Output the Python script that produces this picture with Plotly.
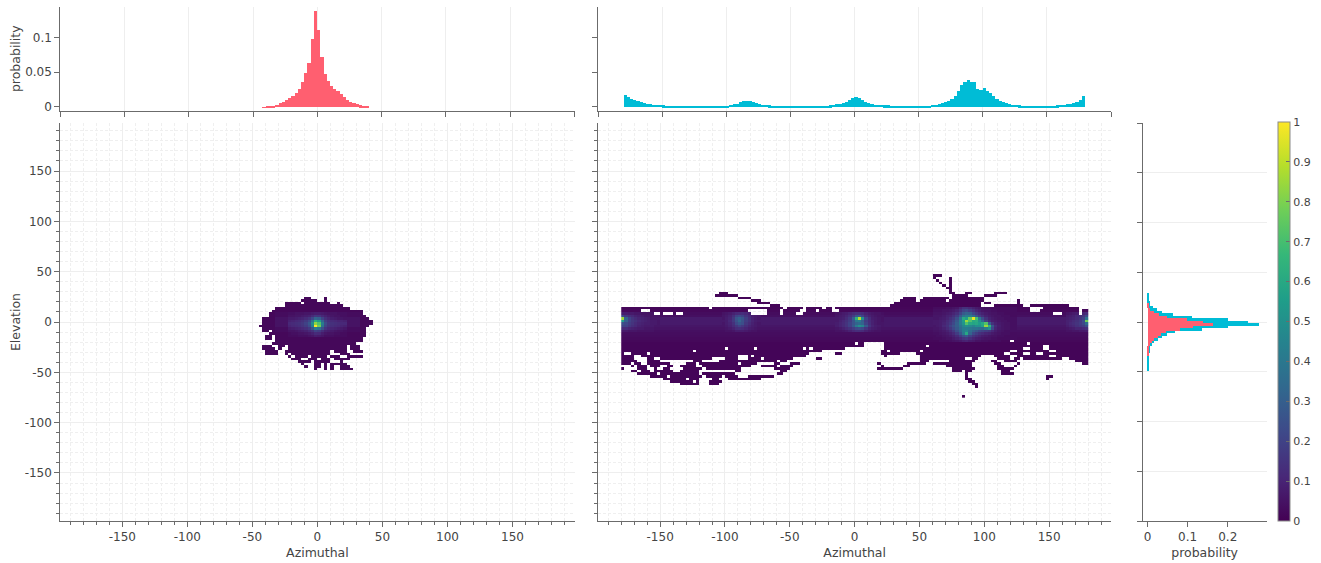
import plotly.graph_objects as go

W, H = 1321, 563
CELL = 2.5

LEFT_ROWS = {
 23.75: [[-10,-5],[5,7.5]],
 21.25: [[-12.5,0],[5,7.5]],
 18.75: [[-25,-12.5],[-10,10],[15,17.5]],
 16.25: [[-25,20]],
 13.75: [[-32.5,25]],
 11.25: [[-35,35]],
 8.75: [[-37.5,35]],
 6.25: [[-37.5,37.5]],
 3.75: [[-42.5,40]],
 1.25: [[-42.5,42.5]],
 -1.25: [[-42.5,42.5]],
 -3.75: [[-45,40]],
 -6.25: [[-42.5,37.5]],
 -8.75: [[-42.5,-37.5],[-35,37.5]],
 -11.25: [[-37.5,37.5]],
 -13.75: [[-40,-35],[-32.5,37.5]],
 -16.25: [[-40,-35],[-32.5,35]],
 -18.75: [[-32.5,35]],
 -21.25: [[-35,30]],
 -23.75: [[-42.5,-35],[-30,-25],[-22.5,22.5],[25,32.5]],
 -26.25: [[-42.5,-32.5],[-30,-27.5],[-22.5,22.5],[25,32.5]],
 -28.75: [[-40,-30],[-25,10],[12.5,22.5],[27.5,35]],
 -31.25: [[-40,-30],[-25,-22.5],[-20,10],[17.5,25]],
 -33.75: [[-22.5,-20],[-17.5,-7.5],[-5,7.5],[10,17.5],[22.5,35]],
 -36.25: [[-20,-12.5],[-7.5,0],[2.5,10],[12.5,25]],
 -38.75: [[-15,-10],[-10,-5],[-2.5,10],[17.5,20]],
 -41.25: [[-12.5,-10],[-2.5,2.5],[5,7.5],[10,22.5]],
 -43.75: [[-10,-7.5],[-2.5,2.5],[5,7.5],[10,12.5],[17.5,25]],
 -46.25: [[-2.5,0],[5,7.5],[10,12.5],[17.5,27.5]],
}
LEFT_BLOCKS = [[-32.5,32.5,-10,10,.03],[-32.5,32.5,-5,5,.05]]
LEFT_PATCHES = [
 [-21.25, 8.75, [
  [.04,.04,.05,.05,.05,.06,.06,.07,.08,.08,.07,.06,.05,.05,.05,.04,.04,.04],
  [.05,.05,.06,.06,.07,.08,.09,.12,.16,.15,.11,.09,.07,.06,.05,.05,.04,.04],
  [.07,.07,.08,.09,.10,.12,.15,.22,.33,.30,.20,.13,.10,.08,.07,.06,.06,.05],
  [.09,.10,.11,.12,.14,.17,.22,.38,.62,.55,.33,.19,.14,.12,.11,.10,.10,.09],
  [.11,.12,.13,.14,.16,.20,.27,.48,.82,.72,.42,.23,.16,.14,.13,.12,.11,.11],
  [.10,.11,.12,.13,.15,.18,.24,.44,1.0,.78,.38,.21,.15,.13,.12,.11,.10,.09],
  [.07,.08,.09,.10,.11,.13,.17,.27,.42,.38,.25,.15,.11,.10,.09,.08,.07,.06],
  [.05,.05,.06,.07,.08,.09,.11,.14,.20,.18,.13,.09,.08,.07,.06,.05,.05,.04],
  [.03,.04,.04,.05,.05,.06,.07,.09,.12,.11,.08,.06,.05,.05,.04,.04,.03,.03],
  [.03,.03,.03,.04,.04,.04,.05,.06,.08,.07,.06,.04,.04,.04,.03,.03,.03,.03],
 ]],
]

RIGHT_ROWS = {
 46.25: [[60,67.5]],
 43.75: [[60,62.5],[72.5,75]],
 41.25: [[62.5,65],[72.5,75]],
 38.75: [[65,67.5],[72.5,75]],
 36.25: [[67.5,70],[72.5,75]],
 33.75: [[70,75]],
 31.25: [[72.5,75]],
 28.75: [[-105,-97.5],[72.5,77.5],[85,90],[107.5,117.5]],
 26.25: [[-107.5,-90],[75,87.5],[100,110]],
 23.75: [[-90,-80],[37.5,47.5],[52.5,72.5],[75,100]],
 21.25: [[-80,-72.5],[35,47.5],[50,70],[72.5,100],[125,127.5]],
 18.75: [[-75,-65],[30,97.5],[100,105],[125,127.5]],
 16.25: [[-65,-57.5],[27.5,97.5],[107.5,130],[135,165]],
 13.75: [[-180,-112.5],[-110,-55],[-52.5,-40],[-37.5,-25],[-22.5,-17.5],[-15,135],[142.5,143],[145,172.5]],
 11.25: [[-180,-165],[-157.5,-82.5],[-67.5,-57.5],[-55,-42.5],[-37.5,-30],[-27.5,-17.5],[-12.5,135],[142.5,172.5],[175,180]],
 8.75: [[-180,-155],[-150,-147.5],[-140,-137.5],[-132.5,-80],[-67.5,-57.5],[-55,-45],[-40,152.5],[160,172.5],[175,180]],
 6.25: [[-180,180]], 3.75: [[-180,180]], 1.25: [[-180,180]], -1.25: [[-180,180]],
 -3.75: [[-180,180]], -6.25: [[-180,180]], -8.75: [[-180,180]], -11.25: [[-180,180]],
 -13.75: [[-180,180]], -16.25: [[-180,180]], -18.75: [[-180,120],[122.5,180]],
 -21.25: [[-180,0],[2.5,7.5],[22.5,132.5],[135,180]],
 -23.75: [[-180,7.5],[22.5,55],[57.5,145],[150,180]],
 -26.25: [[-180,-100],[-97.5,-77.5],[-75,-40],[-37.5,-35],[-32.5,-7.5],[22.5,130],[135,145],[150,180]],
 -28.75: [[-180,-125],[-122.5,-25],[20,25],[27.5,50],[52.5,120],[125,150],[155,180]],
 -31.25: [[-180,-177.5],[-172.5,-160],[-157.5,-35],[-15,-10],[20,35],[47.5,115],[120,130],[135,140],[145,180]],
 -33.75: [[-180,-170],[-165,-90],[-82.5,-80],[-77.5,-37.5],[22.5,25],[50,97.5],[107.5,120],[125,150],[155,180]],
 -36.25: [[-180,-170],[-160,-155],[-150,-110],[-100,-90],[-82.5,-72.5],[-70,-47.5],[-30,-25],[50,85],[90,95],[110,120],[122.5,127.5],[130,160],[165,180]],
 -38.75: [[-180,-167.5],[-160,-150],[-125,-117.5],[-105,-60],[-57.5,-52.5],[50,57.5],[72.5,92.5],[105,110],[115,125],[170,180]],
 -41.25: [[-180,-172.5],[-170,-165],[-160,-142.5],[-130,-122.5],[-120,-90],[-87.5,-75],[-62.5,-57.5],[-50,-42.5],[17.5,20],[40,55],[60,90],[107.5,112.5],[125,127.5],[175,180]],
 -43.75: [[-172.5,-170],[-167.5,-160],[-157.5,-150],[-145,-140],[-135,-122.5],[-117.5,-80],[-72.5,-60],[-57.5,-47.5],[20,22.5],[37.5,42.5],[70,90],[110,115],[122.5,125]],
 -46.25: [[-180,-177.5],[-167.5,-160],[-155,-152.5],[-147.5,-142.5],[-132.5,-117.5],[-115,-87.5],[-62.5,-50],[17.5,37.5],[75,92.5],[110,122.5]],
 -48.75: [[-172.5,-167.5],[-165,-157.5],[-155,-140],[-135,-120],[-92.5,-87.5],[-57.5,-52.5],[75,82.5],[85,90],[112.5,120]],
 -51.25: [[-167.5,-152.5],[-150,-120],[-117.5,-92.5],[-60,-55],[85,87.5],[112.5,122.5]],
 -53.75: [[-157.5,-145],[-142.5,-117.5],[-115,-102.5],[-100,-90],[-82.5,-62.5],[85,87.5],[147.5,152.5]],
 -56.25: [[-147.5,-130],[-127.5,-120],[-110,-105],[-97.5,-72.5],[85,90],[147.5,150]],
 -58.75: [[-142.5,-125],[-122.5,-120],[-112.5,-102.5],[87.5,92.5]],
 -61.25: [[-135,-120],[-112.5,-105],[90,95]],
 -63.75: [[92.5,95]],
 -73.75: [[82.5,85]],
}
RIGHT_BASE = {13.75:.015,11.25:.02,8.75:.03,6.25:.04,3.75:.05,1.25:.06,-1.25:.06,-3.75:.06,
              -6.25:.05,-8.75:.04,-11.25:.035,-13.75:.03,-16.25:.025,-18.75:.02}
RIGHT_BLOCKS = [[-150,-102,-2.5,5,.07],[-75,-15,-2.5,5,.07],[23,60,-5,5,.065],[125,162.5,-2.5,5,.07]]
RIGHT_PATCHES = [
 [-178.75, 8.75, [
  [.08,.08,.07,.07,.06,.06,.05,.05,.05,.05,.04,.04],
  [.22,.16,.13,.11,.09,.08,.07,.06,.06,.05,.05,.05],
  [.85,.32,.2,.15,.12,.1,.09,.08,.07,.06,.06,.06],
  [.55,.3,.2,.16,.14,.11,.1,.09,.08,.07,.07,.06],
  [.25,.22,.18,.15,.12,.1,.09,.08,.08,.07,.07,.06],
  [.2,.2,.16,.13,.11,.09,.08,.07,.07,.07,.06,.06],
  [.12,.12,.1,.09,.08,.07,.07,.06,.06,.06,.05,.05],
  [.07,.07,.06,.06,.06,.05,.05,.05,.05,.05,.04,.04],
 ]],
 [-101.25, 8.75, [
  [.05,.06,.07,.09,.11,.12,.13,.11,.09,.07,.06,.05],
  [.06,.07,.09,.13,.2,.22,.2,.15,.11,.08,.07,.06],
  [.06,.08,.1,.16,.26,.3,.26,.19,.13,.09,.07,.06],
  [.07,.08,.11,.17,.25,.32,.25,.18,.14,.1,.08,.07],
  [.06,.08,.1,.14,.22,.27,.24,.16,.12,.09,.07,.06],
  [.06,.07,.09,.12,.16,.2,.17,.13,.1,.08,.07,.06],
  [.05,.06,.07,.09,.12,.13,.12,.1,.08,.07,.06,.05],
  [.04,.05,.05,.06,.08,.08,.08,.07,.06,.05,.05,.04],
 ]],
 [-13.75, 8.75, [
  [.05,.06,.07,.08,.1,.12,.14,.14,.12,.09,.07,.06,.05,.05,.04],
  [.06,.07,.08,.1,.13,.18,.26,.28,.2,.12,.09,.07,.06,.05,.05],
  [.07,.08,.09,.12,.17,.3,.62,.88,.5,.2,.12,.08,.07,.06,.05],
  [.07,.09,.11,.14,.18,.26,.4,.42,.3,.18,.12,.09,.07,.06,.05],
  [.08,.1,.12,.15,.2,.26,.32,.34,.32,.2,.13,.09,.07,.06,.06],
  [.08,.1,.12,.15,.2,.28,.42,.5,.46,.28,.15,.1,.08,.07,.06],
  [.06,.07,.09,.11,.14,.18,.22,.24,.22,.15,.1,.08,.07,.06,.05],
  [.05,.05,.06,.07,.09,.11,.13,.13,.12,.09,.07,.06,.05,.05,.04],
 ]],
 [61.25, 13.75, [
  [.03,.03,.03,.03,.04,.04,.05,.06,.1,.14,.14,.11,.09,.07,.06,.05,.04,.04,.03,.03,.03,.03,.03,.03,.03,.03],
  [.04,.04,.04,.05,.05,.06,.07,.09,.14,.2,.22,.18,.14,.1,.08,.06,.05,.05,.04,.04,.03,.03,.03,.03,.03,.03],
  [.05,.05,.05,.06,.07,.08,.1,.13,.2,.28,.32,.3,.22,.17,.12,.09,.07,.06,.05,.05,.04,.04,.03,.03,.03,.03],
  [.06,.06,.06,.07,.09,.1,.13,.18,.28,.38,.42,.42,.36,.26,.18,.13,.09,.07,.06,.05,.05,.04,.04,.04,.03,.03],
  [.06,.06,.07,.08,.1,.13,.17,.24,.38,.6,.55,.75,.97,.7,.4,.24,.14,.09,.07,.06,.05,.05,.04,.04,.04,.04],
  [.07,.07,.08,.09,.12,.15,.2,.28,.42,.55,.85,.72,.6,.62,.5,.34,.2,.11,.08,.07,.06,.05,.05,.04,.04,.04],
  [.07,.07,.08,.1,.13,.17,.22,.3,.42,.52,.72,.6,.58,.6,.55,.6,.72,.3,.14,.09,.07,.06,.05,.05,.04,.04],
  [.06,.07,.08,.11,.14,.2,.25,.3,.38,.46,.5,.48,.45,.5,.5,.58,.85,.65,.26,.12,.08,.06,.05,.05,.04,.04],
  [.06,.06,.07,.09,.12,.16,.22,.28,.35,.42,.42,.4,.38,.38,.36,.34,.42,.5,.22,.1,.07,.06,.05,.05,.04,.04],
  [.05,.05,.06,.07,.09,.12,.17,.24,.32,.42,.46,.36,.3,.26,.22,.2,.18,.16,.11,.08,.06,.05,.04,.04,.04,.04],
  [.04,.04,.05,.06,.07,.09,.12,.18,.26,.4,.6,.32,.22,.18,.14,.12,.1,.09,.07,.06,.05,.04,.04,.04,.03,.03],
  [.03,.04,.04,.05,.06,.07,.09,.12,.18,.24,.28,.2,.15,.12,.1,.08,.07,.06,.05,.05,.04,.04,.03,.03,.03,.03],
  [.03,.03,.03,.04,.05,.05,.07,.09,.11,.15,.17,.13,.1,.08,.07,.06,.05,.05,.04,.04,.03,.03,.03,.03,.03,.03],
  [.02,.02,.03,.03,.03,.04,.05,.06,.07,.09,.1,.08,.07,.05,.05,.04,.04,.03,.03,.03,.03,.02,.02,.02,.02,.02],
 ]],
 [163.75, 8.75, [
  [.05,.06,.07,.08,.09,.1,.12],
  [.07,.08,.09,.11,.13,.16,.22],
  [.08,.09,.1,.12,.15,.2,.38],
  [.09,.1,.12,.14,.17,.24,.78],
  [.09,.11,.13,.15,.18,.22,.35],
  [.08,.1,.11,.14,.16,.18,.24],
  [.06,.07,.08,.1,.1,.11,.13],
  [.05,.05,.06,.06,.07,.07,.08],
 ]],
]

AZ_LEFT = [-41.25+CELL*i for i in range(33)]
HIST_LEFT = [.0003,.0007,.0014,.0024,.0035,.0055,.008,.011,.013,.016,.021,.026,.036,.050,.064,.099,.139,
             .112,.072,.048,.038,.031,.026,.023,.019,.015,.011,.008,.006,.004,.0026,.0015,.0006]
AZ_RIGHT = [-178.75+CELL*i for i in range(144)]
HIST_RIGHT = [.017,.0145,.012,.0105,.0085,.007,.0058,.005,.0042,.0036,.0034,.003,
 .0026,.0024,.0022,.002,.0018,.0017,.0016,.0016,.0016,.0016,.0017,.0017,
 .0018,.0018,.0019,.002,.002,.0021,.0021,.0022,
 .0024,.003,.004,.005,.0075,.0095,.0095,.0085,
 .007,.0055,.0045,.0035,.003,.0025,.0022,.002,
 .002,.0021,.0021,.002,.0018,.0016,.0015,.0014,
 .0013,.0013,.0014,.0015,.0016,.0018,.002,.0024,
 .0028,.0034,.0042,.0040,
 .0055,.0075,.0105,.0135,
 .015,.014,.0105,.0075,
 .0055,.004,.0032,.003,
 .0032,.0028,.0025,.0024,.0022,.002,.0018,.0017,.0016,.0016,.0016,.0016,.0017,.0018,.002,.0024,
 .003,.0036,.0045,.0055,
 .0075,.0095,.0125,.016,
 .023,.032,.036,.039,
 .037,.036,.026,.025,
 .027,.024,.020,.016,
 .012,.009,.007,.0055,
 .0045,.0035,.003,.0026,
 .0022,.002,.0018,.0016,.0016,.0016,.0017,.0018,
 .002,.0022,.0024,.0028,.003,.0034,.004,.0048,
 .006,.008,.011,.016]
EL_CYAN = [27.5,25,22.5,20,17.5,15,12.5,10,7.5,5,2.5,0,-2.5,-5,-7.5,-10,-12.5,-15,-17.5,-20,-22.5,-25,-27.5,-30,-32.5,-35,-37.5,-40,-42.5,-45,-47.5]
PROB_CYAN = [.0006,.0015,.003,.004,.006,.012,.022,.035,.063,.11,.2,.25,.277,.2,.134,.068,.048,.036,.024,.016,.01,.006,.005,.004,.003,.002,.0016,.0012,.001,.0008,.0006]
EL_RED = [17.5,15,12.5,10,7.5,5,2.5,0,-2.5,-5,-7.5,-10,-12.5,-15,-17.5,-20,-22.5,-25,-27.5,-30,-32.5]
PROB_RED = [.001,.003,.006,.015,.028,.048,.097,.137,.162,.113,.08,.044,.032,.024,.016,.009,.005,.003,.002,.001,.0008]

MAIN_TICKS = [-150,-100,-50,0,50,100,150]
MAIN_LABELS = ['-150','-100','-50','0','50','100','150']
RED = '#FF5F70'
CYAN = '#00BCD6'
TXT = '#444444'
LINE = '#6b6b6b'


def grid(rows, az0, naz, el0, nel, base, blocks, patches):
    az = [az0 + CELL*(i+.5) for i in range(naz)]
    el = [el0 + CELL*(j+.5) for j in range(nel)]
    z = [[None]*naz for _ in el]
    for j, e in enumerate(el):
        for a0, a1 in rows.get(e, []):
            for i, a in enumerate(az):
                if a0 < a < a1:
                    z[j][i] = base.get(e, .012) if base else .02
    for a0, a1, e0, e1, v in blocks:
        for j, e in enumerate(el):
            if e0 < e < e1:
                for i, a in enumerate(az):
                    if a0 < a < a1 and z[j][i] is not None:
                        z[j][i] = v
    for a_start, e_top, table in patches:
        for r, row in enumerate(table):
            j = el.index(e_top - CELL*r)
            for c, v in enumerate(row):
                i = az.index(a_start + CELL*c)
                if z[j][i] is not None:
                    z[j][i] = v
    return az, el, z


az_l, el_l, z_l = grid(LEFT_ROWS, -50, 40, -50, 32, None, LEFT_BLOCKS, LEFT_PATCHES)
az_r, el_r, z_r = grid(RIGHT_ROWS, -180, 144, -75, 50, RIGHT_BASE, RIGHT_BLOCKS, RIGHT_PATCHES)

fig = go.Figure()
fig.add_bar(x=AZ_LEFT, y=HIST_LEFT, width=CELL, marker=dict(color=RED, line_width=0), xaxis='x', yaxis='y')
fig.add_bar(x=AZ_RIGHT, y=HIST_RIGHT, width=CELL, marker=dict(color=CYAN, line_width=0), xaxis='x3', yaxis='y3')
fig.add_heatmap(x=az_l, y=el_l, z=z_l, coloraxis='coloraxis', xaxis='x2', yaxis='y2', hoverongaps=False)
fig.add_heatmap(x=az_r, y=el_r, z=z_r, coloraxis='coloraxis', xaxis='x4', yaxis='y4', hoverongaps=False)
fig.add_bar(y=EL_CYAN, x=PROB_CYAN, width=CELL, orientation='h', marker=dict(color=CYAN, line_width=0), xaxis='x5', yaxis='y5')
fig.add_bar(y=EL_RED, x=PROB_RED, width=CELL, orientation='h', marker=dict(color=RED, line_width=0), xaxis='x5', yaxis='y5')


def dx(a, b):
    return [a/W, b/W]


def dy(top, bottom):
    return [1-bottom/H, 1-top/H]


def base_axis(**kw):
    d = dict(showline=True, linecolor=LINE, linewidth=1, ticks='outside', tickcolor=LINE, ticklen=5,
             zeroline=False, showgrid=True, gridcolor='#eeeeee', gridwidth=1,
             tickfont=dict(size=12, color=TXT), fixedrange=True)
    d.update(kw)
    return d


def main_axis(labels=True, **kw):
    return base_axis(range=[-197.7, 197.7], tickmode='array', tickvals=MAIN_TICKS,
                     ticktext=MAIN_LABELS if labels else ['']*7,
                     minor=dict(tickmode='linear', tick0=0, dtick=10, ticks='outside', ticklen=3, tickcolor=LINE,
                                showgrid=True, gridcolor='#efefef', griddash='3px,2px', gridwidth=1), **kw)


def title(text, standoff):
    return dict(text=text, font=dict(size=12.5, color=TXT), standoff=standoff)


fig.update_layout(
    width=W, height=H, autosize=False, margin=dict(l=0, r=0, t=0, b=0, autoexpand=False),
    paper_bgcolor='white', plot_bgcolor='white', showlegend=False, barmode='overlay', bargap=0,
    font=dict(family='DejaVu Sans', size=12, color=TXT),
    coloraxis=dict(cmin=0, cmax=1, colorscale='Viridis',
                   colorbar=dict(x=1278/W, xanchor='left', xpad=0, y=1-521/H, yanchor='bottom', ypad=0,
                                 len=398.5/H, lenmode='fraction', thickness=12, thicknessmode='pixels',
                                 tick0=0, dtick=.1, ticks='inside', ticklen=4, tickcolor=LINE,
                                 outlinecolor='#8a8a8a', outlinewidth=1, tickfont=dict(size=11, color=TXT))),
    xaxis=base_axis(domain=dx(60.3, 574.5), range=[-200, 200], tick0=0, dtick=50, showticklabels=False, anchor='y'),
    yaxis=base_axis(domain=dy(6.5, 111), range=[-0.0062, 0.1446], tickvals=[0, .05, .1], ticktext=['0', '0.05', '0.1'],
                    showgrid=False, anchor='x', title=title('probability', 1)),
    xaxis2=main_axis(domain=dx(60.3, 574.5), anchor='y2', title=title('Azimuthal', 4)),
    yaxis2=main_axis(domain=dy(123, 521), anchor='x2', title=title('Elevation', 1)),
    xaxis3=base_axis(domain=dx(598.3, 1111), range=[-200, 200], tick0=0, dtick=50, showticklabels=False, anchor='y3'),
    yaxis3=base_axis(domain=dy(6.5, 111), range=[-0.0062, 0.1446], tickvals=[0, .05, .1], showticklabels=False,
                     showgrid=False, anchor='x3'),
    xaxis4=main_axis(domain=dx(598.3, 1111), anchor='y4', title=title('Azimuthal', 4)),
    yaxis4=main_axis(labels=False, domain=dy(123, 521), anchor='x4'),
    xaxis5=base_axis(domain=dx(1142.5, 1266.7), range=[-0.0124, 0.297], tickvals=[0, .1, .2], ticktext=['0', '0.1', '0.2'],
                     showgrid=False, anchor='y5', title=title('probability', 4)),
    yaxis5=base_axis(domain=dy(123, 521), range=[-200, 200], tick0=0, dtick=50, showticklabels=False, anchor='x5'),
)

fig.write_html("out.html", config={'displayModeBar': False}, post_script="document.body.style.margin='0';")
